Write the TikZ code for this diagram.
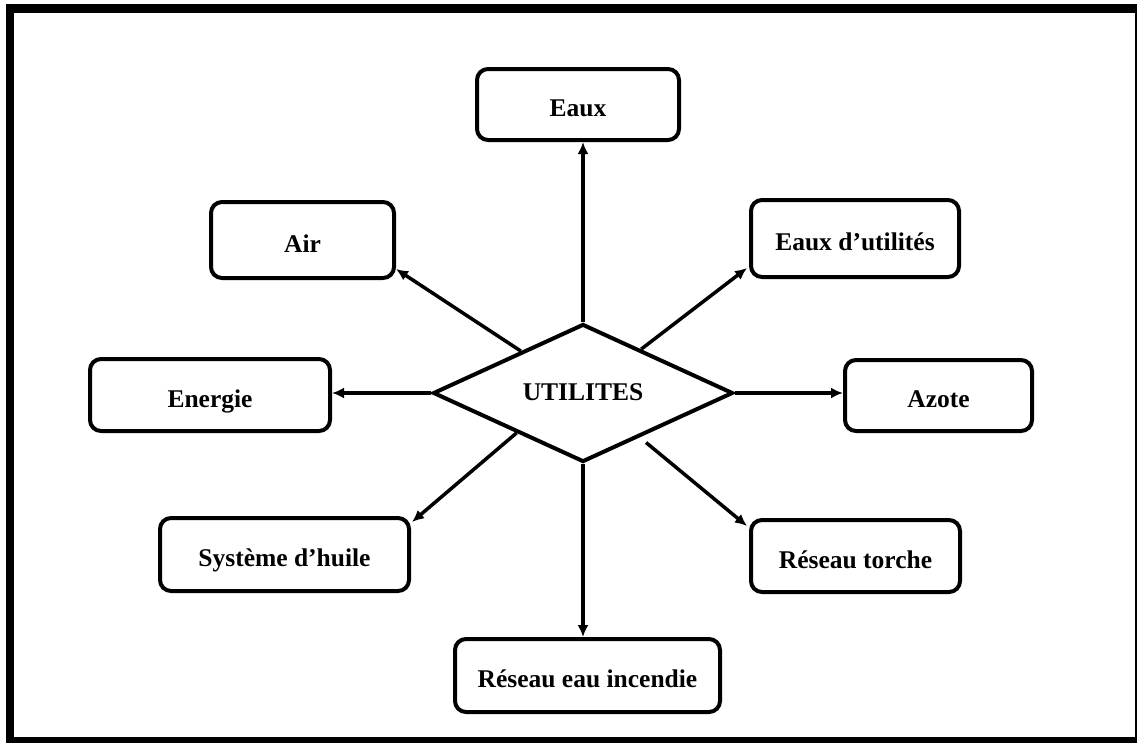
\documentclass[tikz,border=0pt]{standalone}
\usepackage{fontspec}
\setmainfont{Liberation Serif}
\usetikzlibrary{shapes.geometric,arrows.meta,calc}
\begin{document}
\begin{tikzpicture}[x=1pt,y=-1pt,
  lbl/.style={font=\fontsize{25.5}{30}\selectfont\bfseries},
  box/.style={lbl,draw,line width=4pt,rounded corners=11pt,inner sep=0pt,
    text height=24pt,text depth=0pt},
  hub/.style={lbl,draw,diamond,line width=4pt,aspect=2.17,inner sep=0pt,
    minimum width=300pt,minimum height=138pt,text height=14pt,text depth=0pt},
  link/.style={line width=3.5pt,-{Latex[length=12pt,width=11pt]}}]
\useasboundingbox (0,0) rectangle (1137,742);
% outer frame
\begin{scope}
  \clip (0,0) rectangle (1137,742);
  \draw[line width=8.5pt] (10,8.5) rectangle (1139,741);
\end{scope}

% central hub
\node[hub] (util) at (583,393) {UTILITES};

% surrounding boxes
\node[box,minimum width=202pt,minimum height=71pt] (eaux) at (578,104.5) {Eaux};
\node[box,minimum width=183pt,minimum height=76pt] (air) at (302.5,240) {Air};
\node[box,minimum width=208pt,minimum height=77pt] (eu) at (855,238.5) {Eaux d’utilités};
\node[box,minimum width=240pt,minimum height=72pt] (energie) at (210,395) {Energie};
\node[box,minimum width=187pt,minimum height=71pt] (azote) at (938.5,395.5) {Azote};
\node[box,minimum width=249pt,minimum height=73pt] (huile) at (284.5,554.5) {Système d’huile};
\node[box,minimum width=209pt,minimum height=72pt] (torche) at (855.5,556) {Réseau torche};
\node[box,minimum width=265pt,minimum height=73pt] (incendie) at (587.5,675.5) {Réseau eau incendie};

% connectors
\draw[link] (util.north) -- (util.north |- eaux.south);
\draw[link] (util.south) -- (util.south |- incendie.north);
\draw[link] (util.west) -- (util.west -| energie.east);
\draw[link] (util.east) -- (util.east -| azote.west);
\draw[link] (util.146) -- ($(air.south east)+(0,-11)$);
\draw[link] (util.37) -- ($(eu.south west)+(-2,-11)$);
\draw[link] (util.211) -- ($(huile.north east)+(1,6)$);
\draw[link,shorten <=8pt] (util.322) -- ($(torche.north west)+(-2,8)$);
\end{tikzpicture}
\end{document}
